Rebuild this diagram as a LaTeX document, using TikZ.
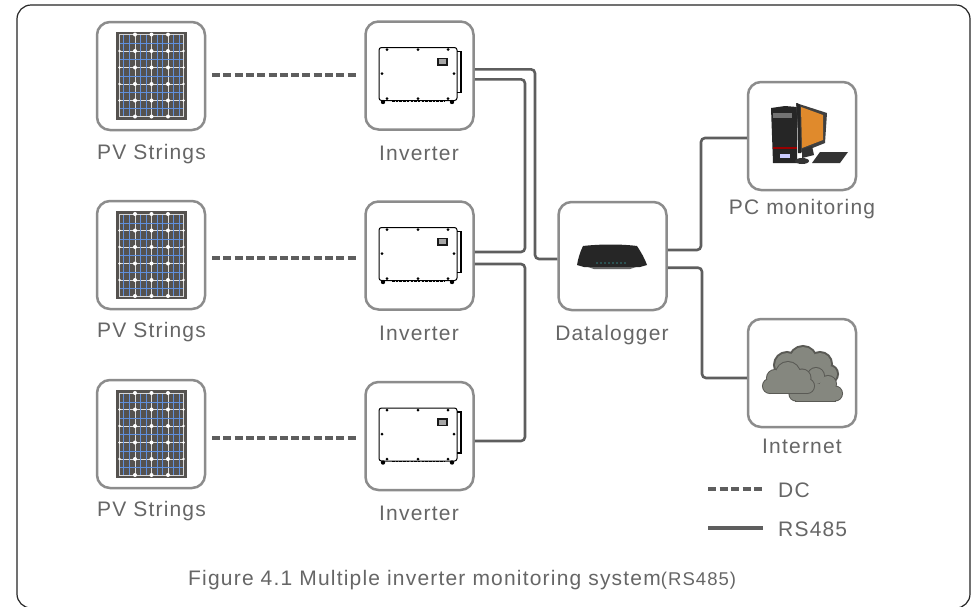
\documentclass[tikz,border=0pt]{standalone}
\usepackage{fontspec}
\setmainfont{Liberation Sans}[LetterSpace=5.7]
\newfontfamily\capfont{Liberation Sans}[LetterSpace=5.7]
\definecolor{boxg}{HTML}{8C8C8C}
\definecolor{linkg}{HTML}{5E5E5E}
\definecolor{textg}{HTML}{666666}
\definecolor{panelg}{HTML}{55524F}
\definecolor{cellb}{HTML}{5F8FDC}
\definecolor{cloudg}{HTML}{85877F}
\definecolor{cloude}{HTML}{5A5A55}
\tikzset{
  x=1pt,y=-1pt,
  devbox/.style={draw=boxg,line width=2.5pt,rounded corners=13pt,fill=white,minimum width=108pt,minimum height=108pt,inner sep=0pt},
  lab/.style={text=textg,font=\fontsize{21}{23}\selectfont,inner sep=0pt,anchor=base},
  link/.style={draw=linkg,line width=2.6pt,rounded corners=4pt},
  dclink/.style={draw=linkg,line width=3.6pt,dash pattern=on 8pt off 3.3pt},
  invline/.style={draw=black,line width=1pt},
}
\newcommand{\panelpic}[2]{%
  \begin{scope}[shift={(#1,#2)}]
    \fill[panelg] (-35.5,-44) rectangle (35.5,44);
    \foreach \y in {-24.5,-8,8.5,25}{\draw[white!75!gray,line width=.9pt] (-32,\y) -- (32,\y);}
    \foreach \x in {-16.5,0,16.5}{\draw[white!75!gray,line width=.9pt] (\x,-41) -- (\x,41);}
    \foreach \y in {-32,-16,0.5,17,33}{\draw[cellb,line width=.8pt] (-32,\y) -- (32,\y);}
    \foreach \x in {-28,-22,-11,-5.5,5.5,11,22,28}{\draw[cellb,line width=.7pt] (\x,-41) -- (\x,41);}
    \draw[white!70!gray,line width=.7pt] (-32,-41) rectangle (32,41);
    \foreach \x in {-16.5,0,16.5}\foreach \y in {-41,-24.5,-8,8.5,25,41}{\fill[white] (\x,\y) circle (2);}
    \foreach \x in {-32,32}\foreach \y in {-24.5,-8,8.5,25}{\fill[white] (\x,\y) circle (1.3);}
  \end{scope}}
\newcommand{\invpic}[2]{%
  \begin{scope}[shift={(#1,#2)}]
    \draw[invline,rounded corners=2.5pt] (-39,-26.5) rectangle (39,26.5);
    \draw[invline,line width=1.3pt] (39,-22.5) -- (43,-22.5) -- (43,18.5) -- (39,18.5);
    \draw[black,line width=.7pt,dash pattern=on 2.5pt off 1.2pt] (-26,27) -- (26,27);
    \foreach \x in {-31,0,30}{\fill (\x,-24.5) circle (1.5); \fill (\x,24.5) circle (1.5);}
    \foreach \x in {-36,36}{\fill (\x,-0.5) circle (1.5);}
    \fill (-35,28) circle (2.2);
    \fill (34,28) circle (2.2);
    \fill[black!90] (19,-16.5) rectangle (30,-8.5);
    \fill[white!65!black] (21,-15) rectangle (28,-10);
  \end{scope}}
% #1 circles, #2 body rectangle, #3 outline width
\newcommand{\cloudpart}[3]{%
  \foreach \a/\b/\r in {#1}{\draw[cloude,line width=#3] (\a,\b) circle (\r);}
  \draw[cloude,line width=#3] #2;
  \foreach \a/\b/\r in {#1}{\fill[cloudg] (\a,\b) circle (\r);}
  \fill[cloudg] #2;}
\begin{document}
\begin{tikzpicture}
\useasboundingbox (0,0) rectangle (975,606);
\fill[white] (0,0) rectangle (975,606);
\draw[black!85,line width=1.2pt,rounded corners=14pt] (400,5) -- (970,5) -- (970,608) -- (17,608) -- (17,5) -- cycle;
% boxes
\node[devbox] (pv1) at (151,76) {};
\node[devbox] (pv2) at (151,255) {};
\node[devbox] (pv3) at (151,434) {};
\node[devbox] (inv1) at (419.5,75.5) {};
\node[devbox] (inv2) at (419.5,255.5) {};
\node[devbox] (inv3) at (419.5,436) {};
\node[devbox] (dl) at (612.5,256) {};
\node[devbox] (pc) at (802,136) {};
\node[devbox] (net) at (802,373) {};
\panelpic{151.5}{75.5}
\panelpic{151.5}{255}
\panelpic{151.5}{434}
\invpic{418}{74}
\invpic{418}{254}
\invpic{418}{434.5}
% DC links
\coordinate (d1) at (212,75);
\coordinate (e1) at (356,75);
\coordinate (d2) at (212,258);
\coordinate (e2) at (356,258);
\coordinate (d3) at (212,438);
\coordinate (e3) at (356,438);
\draw[dclink] (d1) -- (e1);
\draw[dclink] (d2) -- (e2);
\draw[dclink] (d3) -- (e3);
% RS485 links
\draw[link] (inv1.east |- 0,69.3) -- (535,69.3) -- (535,259) -- (dl.west |- 0,259);
\draw[link] (inv1.east |- 0,79.3) -- (525,79.3) -- (525,252) -- (inv2.east |- 0,252);
\draw[link] (inv2.east |- 0,264) -- (525,264) -- (525,441) -- (inv3.east |- 0,441);
\draw[link] (dl.east |- 0,250) -- (701,250) -- (701,138) -- (pc.west |- 0,138);
\draw[link] (dl.east |- 0,267.7) -- (702,267.7) -- (702,378) -- (net.west |- 0,378);
% router
\begin{scope}[shift={(612,256)}]
  \fill[black!85] (-29,-10) .. controls (-12,-12) and (10,-12) .. (25,-10) .. controls (29,-4) and (33,3) .. (35,9) -- (28,11) -- (-28,11) -- (-35,9) .. controls (-34,3) and (-32,-4) .. (-29,-10) -- cycle;
  \fill[black!60] (-24,11) -- (24,11) -- (18,13) -- (-18,13) -- cycle;
  \foreach \x in {-15,-11,...,15}{\fill[teal!60!gray] (\x,7) circle (.8);}
\end{scope}
% computer
\begin{scope}[shift={(740,75)}]
  \fill[black!85] (31,33) -- (45,31) -- (57,32) -- (57,88) -- (33,88) -- cycle;
  \fill[black!55] (33,38) rectangle (52,43);
  \fill[red!60!black] (33,72) rectangle (57,73.5);
  \fill[white!80!blue] (40,79) rectangle (50,83);
  \fill[black!75] (56,28) -- (87,38) -- (85,68) -- (60,78) -- cycle;
  \fill[black!85] (57,28) -- (60,30) -- (61,78) -- (58,78) -- cycle;
  \definecolor{screeno}{HTML}{E08A2C}
  \fill[screeno] (61,32) -- (83,40) -- (83,65) -- (62,73) -- cycle;
  \fill[black!80] (62,74) -- (72,71) -- (74,80) -- (62,83) -- cycle;
  \fill[black!80] (80,77) -- (108,77) -- (100,88) -- (72,88) -- cycle;
  \fill[black!80] (62,86) ellipse (7 and 3);
\end{scope}
% clouds
\cloudpart{787/365/12,803/360/13,820/364/11,829/374/8}{(785,365) rectangle (830,385)}{4pt}
\cloudpart{816/376/8,828/384/8,835/393.5/7,796/394/6.5}{(796,384) rectangle (835,400.5)}{2pt}
\cloudpart{788/374/12,775/378/8,802/378/8.5,770/386/7,807/386/7}{(770,380) rectangle (807,393)}{2pt}
% labels
\node[lab] (t1) at (151.5,159.5) {PV Strings};
\node[lab] (t2) at (151.5,337) {PV Strings};
\node[lab] (t3) at (151.5,516.5) {PV Strings};
\node[lab] (t4) at (419,160) {Inverter};
\node[lab] (t5) at (419,340) {Inverter};
\node[lab] (t6) at (419,520) {Inverter};
\node[lab] (t7) at (612,340) {Datalogger};
\node[lab] (t8) at (802,214) {PC monitoring};
\node[lab] (t9) at (802,453) {Internet};
\node[lab,anchor=base west] (t10) at (778,497) {DC};
\node[lab,anchor=base west] (t11) at (778,536.5) {RS485};
\coordinate (dca) at (708,489);
\coordinate (dcb) at (762,489);
\coordinate (rsa) at (708,528);
\coordinate (rsb) at (763,528);
\draw[dclink,dash pattern=on 8pt off 3.5pt] (dca) -- (dcb);
\draw[link,line width=3.2pt] (rsa) -- (rsb);
\node[lab,anchor=base west,font=\fontsize{21}{23}\capfont] (cap) at (188,585) {Figure 4.1 Multiple inverter monitoring system\fontsize{18.5}{23}\selectfont(RS485)};
\end{tikzpicture}
\end{document}
